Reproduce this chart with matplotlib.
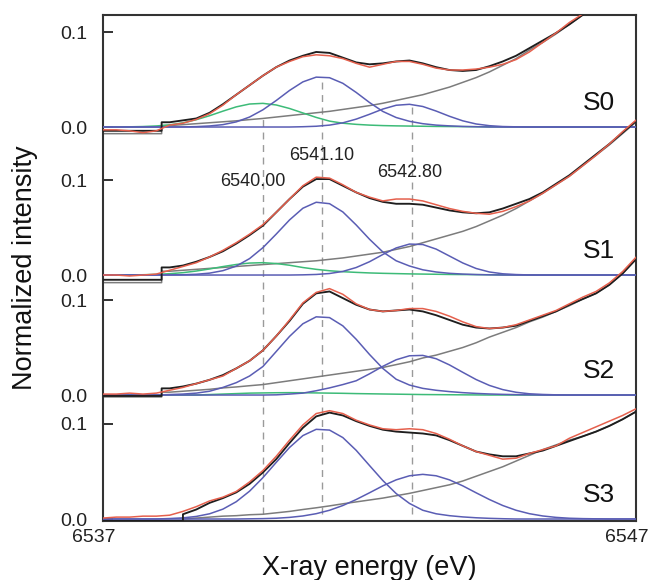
import numpy as np
import matplotlib
matplotlib.use("Agg")
import matplotlib.pyplot as plt
from matplotlib.transforms import ScaledTranslation

plt.rcParams['font.family'] = ['Liberation Sans', 'DejaVu Sans']

# ---------------- data ----------------
energy = np.linspace(6537, 6547, 41)          # eV, 0.25 eV steps
panel_names = ['S0', 'S1', 'S2', 'S3']
step_energy = [6538.1, 6538.1, 6538.1, 6538.5]  # edge step in fit/background
peak_energies = [6540.00, 6541.10, 6542.80]
peak_labels = ['6540.00', '6541.10', '6542.80']
x_tick_values = [6537, 6547]
y_tick_labels = ['0.0', '0.1']

# S0
bg_S0 = [-0.007, -0.007, -0.007, -0.007, -0.007, 0.0015, 0.0025, 0.0035, 0.0045, 0.0055,
         0.0065, 0.0078, 0.0090, 0.0105, 0.0120, 0.0135, 0.0150, 0.0165, 0.0185, 0.0205,
         0.0225, 0.025, 0.028, 0.031, 0.034, 0.038, 0.042, 0.047, 0.052, 0.058,
         0.065, 0.072, 0.081, 0.089, 0.098, 0.108, 0.118, 0.128, 0.139, 0.150, 0.162]
blue1_S0 = [0, 0, 0, 0, 0, 0, 0.0001, 0.0004, 0.0011, 0.0025,
            0.0054, 0.0105, 0.0181, 0.0279, 0.0385, 0.0475, 0.0525, 0.0519, 0.0460, 0.0364,
            0.0258, 0.0164, 0.0100, 0.0060, 0.0035, 0.0020, 0.0012, 0.0006, 0.0003, 0,
            0, 0, 0, 0, 0, 0, 0, 0, 0, 0, 0]
blue2_S0 = [0, 0, 0, 0, 0, 0, 0, 0, 0, 0,
            0, 0, 0, 0, 0, 0.0003, 0.0008, 0.0020, 0.0044, 0.0083,
            0.0134, 0.0189, 0.0229, 0.0239, 0.0216, 0.0168, 0.0113, 0.0065, 0.0032, 0.0014,
            0.0005, 0.0002, 0, 0, 0, 0, 0, 0, 0, 0, 0]
green_S0 = [0, 0, 0.0002, 0.0005, 0.0011, 0.0023, 0.0044, 0.0077, 0.0119, 0.0167,
            0.0212, 0.0242, 0.0249, 0.0232, 0.0195, 0.0148, 0.0101, 0.0062, 0.0040, 0.0028,
            0.0020, 0.0015, 0.0012, 0.0010, 0.0008, 0.0006, 0.0005, 0.0004, 0.0003, 0.0002,
            0.0001, 0, 0, 0, 0, 0, 0, 0, 0, 0, 0]
fit_S0 = [-0.004, -0.004, -0.004, -0.004, -0.004, 0.005, 0.007, 0.009, 0.015, 0.024,
          0.034, 0.044, 0.054, 0.063, 0.070, 0.075, 0.079, 0.078, 0.073, 0.068,
          0.066, 0.067, 0.069, 0.070, 0.067, 0.063, 0.060, 0.059, 0.060, 0.064,
          0.069, 0.075, 0.083, 0.091, 0.099, 0.108, 0.118, 0.128, 0.139, 0.150, 0.162]
data_S0 = [-0.003, -0.003, -0.004, -0.006, -0.004, 0.002, 0.004, 0.008, 0.014, 0.023,
           0.034, 0.044, 0.054, 0.063, 0.069, 0.074, 0.076, 0.075, 0.072, 0.067,
           0.063, 0.066, 0.069, 0.069, 0.066, 0.062, 0.060, 0.060, 0.061, 0.063,
           0.066, 0.071, 0.079, 0.089, 0.099, 0.110, 0.119, 0.129, 0.140, 0.151, 0.163]

# S1
bg_S1 = [-0.008, -0.008, -0.008, -0.008, -0.008, 0.004, 0.005, 0.006, 0.007, 0.008,
         0.009, 0.010, 0.011, 0.012, 0.013, 0.014, 0.015, 0.0165, 0.018, 0.020,
         0.022, 0.024, 0.027, 0.030, 0.034, 0.038, 0.042, 0.046, 0.051, 0.057,
         0.063, 0.070, 0.078, 0.086, 0.095, 0.104, 0.115, 0.126, 0.137, 0.149, 0.161]
blue1_S1 = [0, 0, 0, 0, 0, 0.0001, 0.0003, 0.0008, 0.0020, 0.0046,
            0.0094, 0.0173, 0.0288, 0.0431, 0.0580, 0.0703, 0.0766, 0.0751, 0.0664, 0.0527,
            0.0377, 0.0243, 0.0150, 0.0095, 0.0055, 0.0032, 0.0018, 0.0010, 0.0005, 0.0002,
            0, 0, 0, 0, 0, 0, 0, 0, 0, 0, 0]
blue2_S1 = [0, 0, 0, 0, 0, 0, 0, 0, 0, 0,
            0, 0, 0, 0, 0, 0.0002, 0.0006, 0.0016, 0.0038, 0.0079,
            0.0140, 0.0216, 0.0285, 0.0326, 0.0321, 0.0273, 0.0200, 0.0127, 0.0069, 0.0032,
            0.0013, 0.0005, 0.0001, 0, 0, 0, 0, 0, 0, 0, 0]
green_S1 = [0, 0, 0.0001, 0.0003, 0.0007, 0.0014, 0.0025, 0.0042, 0.0064, 0.0089,
            0.0111, 0.0126, 0.0130, 0.0121, 0.0103, 0.0079, 0.0060, 0.0045, 0.0035, 0.0028,
            0.0022, 0.0018, 0.0015, 0.0012, 0.0010, 0.0008, 0.0006, 0.0005, 0.0004, 0.0003,
            0.0002, 0.0001, 0, 0, 0, 0, 0, 0, 0, 0, 0]
fit_S1 = [-0.005, -0.005, -0.005, -0.005, -0.005, 0.008, 0.010, 0.014, 0.019, 0.025,
          0.033, 0.042, 0.052, 0.066, 0.080, 0.093, 0.101, 0.101, 0.094, 0.087,
          0.081, 0.077, 0.075, 0.075, 0.074, 0.071, 0.068, 0.066, 0.065, 0.066,
          0.070, 0.075, 0.080, 0.087, 0.096, 0.105, 0.116, 0.127, 0.138, 0.150, 0.162]
data_S1 = [0.000, 0.000, -0.001, 0.000, 0.001, 0.005, 0.009, 0.013, 0.019, 0.026,
           0.034, 0.043, 0.053, 0.066, 0.080, 0.094, 0.103, 0.102, 0.095, 0.087,
           0.082, 0.078, 0.080, 0.080, 0.078, 0.074, 0.070, 0.067, 0.065, 0.064,
           0.067, 0.072, 0.078, 0.086, 0.095, 0.104, 0.115, 0.126, 0.138, 0.151, 0.163]

# S2
bg_S2 = [-0.002, -0.002, -0.002, -0.002, -0.002, 0.003, 0.004, 0.005, 0.006, 0.0075,
         0.0085, 0.0098, 0.011, 0.013, 0.015, 0.017, 0.019, 0.021, 0.023, 0.025,
         0.027, 0.029, 0.032, 0.035, 0.039, 0.042, 0.046, 0.050, 0.055, 0.061,
         0.066, 0.071, 0.077, 0.082, 0.088, 0.094, 0.101, 0.107, 0.116, 0.128, 0.143]
blue1_S2 = [0, 0, 0, 0, 0, 0.0005, 0.0010, 0.0020, 0.0040, 0.0080,
            0.0130, 0.0200, 0.0300, 0.0458, 0.0617, 0.0750, 0.0823, 0.0815, 0.0728, 0.0587,
            0.0427, 0.0280, 0.0166, 0.0105, 0.0070, 0.0050, 0.0036, 0.0025, 0.0017, 0.0011,
            0.0007, 0.0004, 0.0002, 0, 0, 0, 0, 0, 0, 0, 0]
blue2_S2 = [0, 0, 0, 0, 0, 0, 0, 0, 0, 0,
            0, 0, 0, 0.0002, 0.0010, 0.0020, 0.0045, 0.0075, 0.0110, 0.0150,
            0.0223, 0.0302, 0.0371, 0.0413, 0.0417, 0.0382, 0.0317, 0.0239, 0.0163, 0.0101,
            0.0057, 0.0029, 0.0013, 0.0006, 0.0002, 0, 0, 0, 0, 0, 0]
green_S2 = [0, 0, 0, 0, 0, 0, 0, 0, 0.0005, 0.0010,
            0.0015, 0.0020, 0.0022, 0.0024, 0.0025, 0.0024, 0.0022, 0.0020, 0.0018, 0.0015,
            0.0013, 0.0011, 0.0009, 0.0007, 0.0005, 0.0004, 0.0003, 0.0002, 0.0001, 0,
            0, 0, 0, 0, 0, 0, 0, 0, 0, 0, 0]
fit_S2 = [-0.001, -0.001, -0.001, -0.001, -0.001, 0.007, 0.009, 0.012, 0.016, 0.021,
          0.028, 0.036, 0.047, 0.062, 0.078, 0.096, 0.107, 0.109, 0.102, 0.095,
          0.090, 0.088, 0.089, 0.090, 0.088, 0.084, 0.079, 0.074, 0.071, 0.070,
          0.071, 0.073, 0.078, 0.083, 0.088, 0.095, 0.101, 0.107, 0.116, 0.128, 0.143]
data_S2 = [0.001, 0.001, 0.002, 0.001, 0.002, 0.005, 0.008, 0.012, 0.016, 0.020,
           0.028, 0.036, 0.047, 0.062, 0.079, 0.097, 0.108, 0.112, 0.106, 0.096,
           0.090, 0.088, 0.089, 0.091, 0.091, 0.088, 0.083, 0.077, 0.072, 0.070,
           0.071, 0.074, 0.079, 0.084, 0.089, 0.096, 0.103, 0.109, 0.118, 0.130, 0.145]

# S3
bg_S3 = [-0.003, -0.003, -0.003, -0.003, -0.003, -0.003, 0.000, 0.001, 0.002, 0.003,
         0.0035, 0.0045, 0.005, 0.0065, 0.008, 0.0100, 0.0118, 0.0138, 0.016, 0.018,
         0.020, 0.022, 0.0245, 0.027, 0.030, 0.033, 0.036, 0.040, 0.045, 0.050,
         0.055, 0.061, 0.067, 0.073, 0.078, 0.083, 0.087, 0.092, 0.098, 0.105, 0.113]
blue1_S3 = [0, 0, 0, 0, 0, 0.0005, 0.0012, 0.0027, 0.0055, 0.0104,
            0.0182, 0.0293, 0.0435, 0.0596, 0.0753, 0.0878, 0.0944, 0.0936, 0.0857, 0.0723,
            0.0563, 0.0405, 0.0268, 0.0164, 0.0092, 0.0055, 0.0035, 0.0022, 0.0013, 0.0007,
            0.0003, 0, 0, 0, 0, 0, 0, 0, 0, 0, 0]
blue2_S3 = [0, 0, 0, 0, 0, 0, 0, 0, 0, 0,
            0, 0.0002, 0.0004, 0.0008, 0.0017, 0.0032, 0.0056, 0.0092, 0.0142, 0.0205,
            0.0276, 0.0349, 0.0412, 0.0455, 0.0470, 0.0455, 0.0412, 0.0349, 0.0276, 0.0205,
            0.0142, 0.0092, 0.0056, 0.0032, 0.0017, 0.0008, 0.0004, 0.0002, 0, 0, 0]
green_S3 = None
fit_S3 = [-0.002, -0.002, -0.002, -0.002, -0.002, -0.002, 0.005, 0.010, 0.017, 0.022,
          0.028, 0.037, 0.049, 0.063, 0.080, 0.096, 0.108, 0.112, 0.109, 0.103,
          0.098, 0.094, 0.092, 0.091, 0.090, 0.088, 0.083, 0.077, 0.071, 0.068,
          0.066, 0.066, 0.069, 0.072, 0.077, 0.082, 0.087, 0.092, 0.098, 0.105, 0.113]
data_S3 = [0.001, 0.002, 0.002, 0.003, 0.003, 0.004, 0.008, 0.013, 0.019, 0.023,
           0.029, 0.039, 0.051, 0.066, 0.083, 0.099, 0.111, 0.114, 0.111, 0.104,
           0.099, 0.095, 0.094, 0.095, 0.094, 0.090, 0.084, 0.077, 0.071, 0.067,
           0.063, 0.064, 0.069, 0.073, 0.077, 0.085, 0.091, 0.097, 0.103, 0.109, 0.116]

panels = [
    (bg_S0, blue1_S0, blue2_S0, green_S0, fit_S0, data_S0),
    (bg_S1, blue1_S1, blue2_S1, green_S1, fit_S1, data_S1),
    (bg_S2, blue1_S2, blue2_S2, green_S2, fit_S2, data_S2),
    (bg_S3, blue1_S3, blue2_S3, green_S3, fit_S3, data_S3),
]

# ---------------- layout / style ----------------
offsets = [0.4126, 0.2568, 0.1305, 0.0]
dash_tops = [0.4221, 0.4642, 0.4358]
label_pos = [(6539.81, 0.355), (6541.10, 0.383), (6542.76, 0.365)]

C_BLUE = '#5a5db4'
C_GREEN = '#3dbb78'
C_GREY = '#7c7c7c'
C_BLACK = '#1e1e1e'
C_RED = '#e5604d'


def with_step(x, y, s):
    x = np.asarray(x, float)
    y = np.asarray(y, float)
    i = int(np.searchsorted(x, s))
    xs = np.concatenate([x[:i], [s, s], x[i:]])
    ys = np.concatenate([y[:i], [y[i - 1], y[i]], y[i:]])
    return xs, ys


fig = plt.figure(figsize=(6.54, 5.80), dpi=100)
ax = fig.add_axes([103 / 654, 1 - 521 / 580, 533 / 654, 506 / 580])

for (bg, b1, b2, gr, fit, dat), off, s in zip(panels, offsets, step_energy):
    xs, ys = with_step(energy, bg, s)
    ax.plot(xs, ys + off, color=C_GREY, lw=1.1, zorder=2)
    if gr is not None:
        ax.plot(energy, np.asarray(gr) + off, color=C_GREEN, lw=1.1, zorder=3)
    ax.plot(energy, np.asarray(b1) + off, color=C_BLUE, lw=1.1, zorder=4)
    ax.plot(energy, np.asarray(b2) + off, color=C_BLUE, lw=1.1, zorder=4)
    xs, ys = with_step(energy, fit, s)
    ax.plot(xs, ys + off, color=C_BLACK, lw=1.35, zorder=5)
    ax.plot(energy, np.asarray(dat) + off, color=C_RED, lw=1.1, zorder=6)

# dashed peak-position lines
for e, top in zip(peak_energies, dash_tops):
    ax.plot([e, e], [0.005, top], color='#9a9a9a', lw=1.0,
            linestyle=(0, (5, 4)), zorder=1)

for txt, (px, py) in zip(peak_labels, label_pos):
    ax.text(px, py, txt, ha='center', va='center', fontsize=13, color='#222222')

for name, off in zip(panel_names, offsets):
    ax.text(6546.31, off + 0.025, name, ha='center', va='center',
            fontsize=19, color='#111111')

ax.set_xlim(6537, 6547)
ax.set_ylim(-0.0021, 0.5305)

yt = []
ytl = []
for off in offsets:
    yt += [off, off + 0.1]
    ytl += y_tick_labels
ax.set_yticks(yt)
ax.set_yticklabels(ytl)
ax.tick_params(axis='y', direction='in', length=7, width=1.3, pad=11.5,
               labelsize=14, colors='#222222')

ax.set_xticks(x_tick_values)
ax.set_xticklabels([str(v) for v in x_tick_values])
ax.tick_params(axis='x', direction='in', length=0, pad=6.0, labelsize=14,
               colors='#222222')
for lab in ax.get_xticklabels():
    lab.set_transform(lab.get_transform() +
                      ScaledTranslation(-0.095, 0, fig.dpi_scale_trans))

for sp in ax.spines.values():
    sp.set_linewidth(1.5)
    sp.set_color('#333333')

fig.text(25 / 654, 1 - 268 / 580, 'Normalized intensity', rotation=90,
         ha='center', va='center', fontsize=19.5, color='#111111')
fig.text(369 / 654, 1 - 568 / 580, 'X-ray energy (eV)', ha='center',
         va='center', fontsize=19.5, color='#111111')

fig.savefig('out.png', dpi=100)
